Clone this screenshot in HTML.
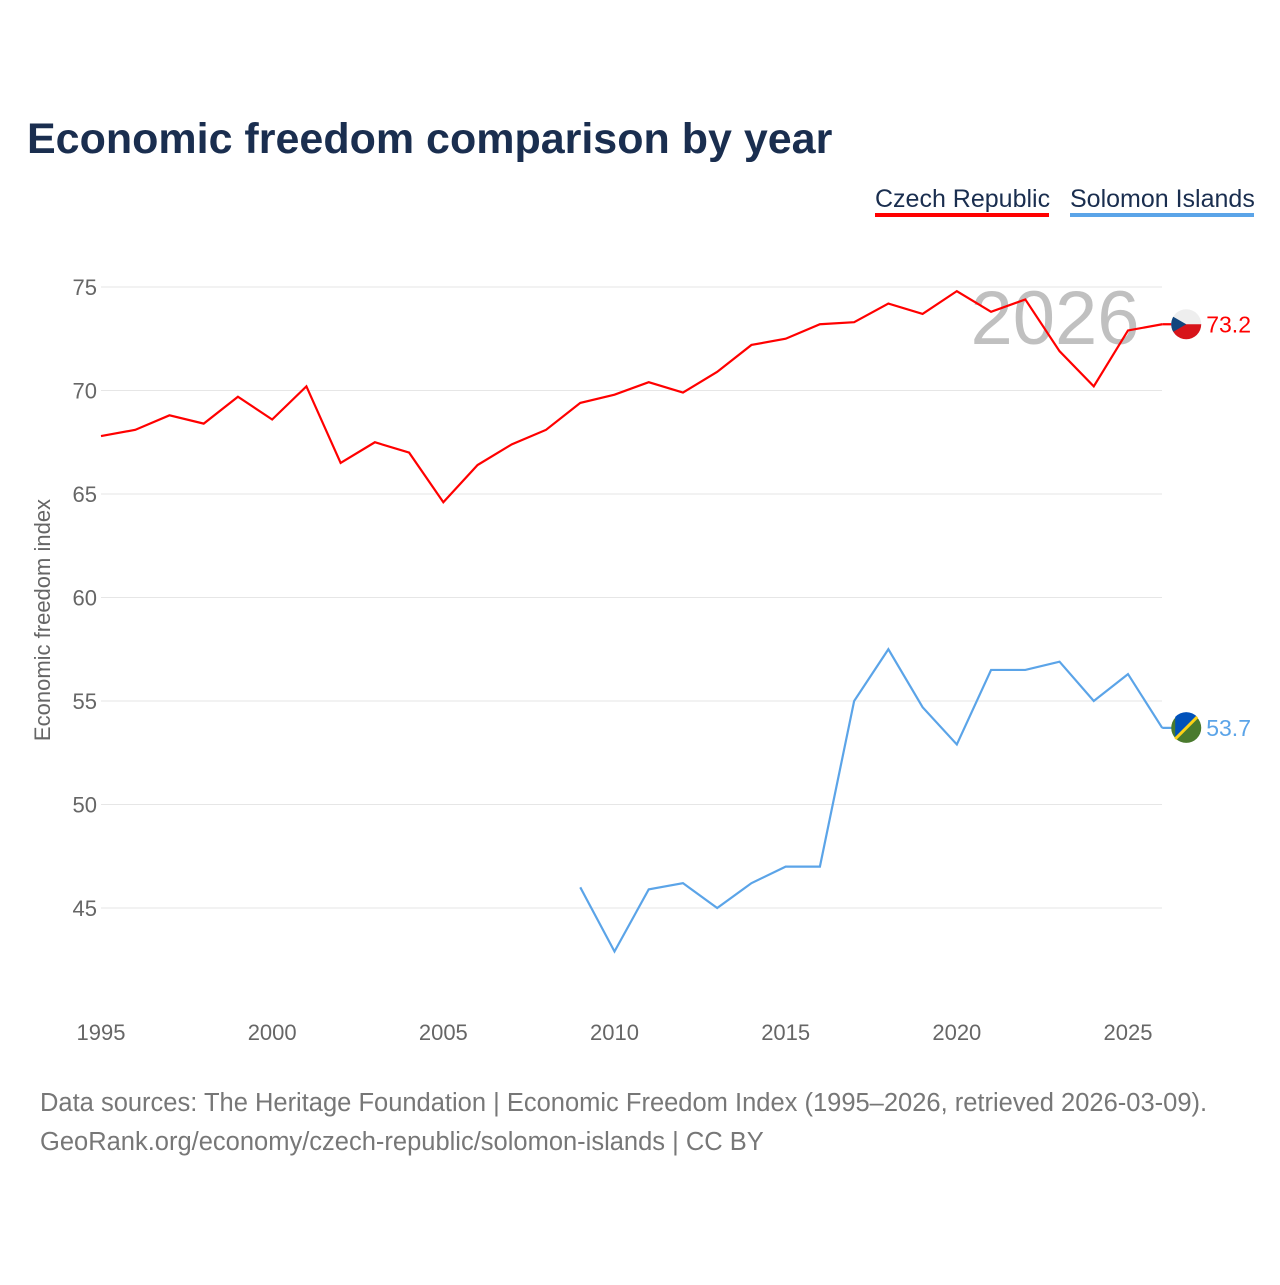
<!DOCTYPE html>
<html><head><meta charset="utf-8"><style>
body{margin:0;background:#fff;font-family:"Liberation Sans",sans-serif}
</style></head><body>
<svg width="1280" height="1280" xmlns="http://www.w3.org/2000/svg">
<text x="27" y="153" font-size="43" font-weight="bold" fill="#1a2e4f">Economic freedom comparison by year</text>
<g>
<text x="875" y="207" font-size="25" fill="#1a2e4f">Czech Republic</text>
<rect x="875" y="213" width="174" height="4" fill="#ff0000"/>
<text x="1070" y="207" font-size="25" fill="#1a2e4f">Solomon Islands</text>
<rect x="1070" y="213" width="184" height="4" fill="#5ba4e8"/>
</g>
<text x="1055" y="344" font-size="76" fill="#c0c0c0" text-anchor="middle">2026</text>
<g id="grid"></g><g id="lines"></g>
<text transform="translate(50,620) rotate(-90)" font-size="22" fill="#666" text-anchor="middle">Economic freedom index</text>
<text x="40" y="1111" font-size="25.5" fill="#777">Data sources: The Heritage Foundation | Economic Freedom Index (1995–2026, retrieved 2026-03-09).</text>
<text x="40" y="1150" font-size="25.5" fill="#777">GeoRank.org/economy/czech-republic/solomon-islands | CC BY</text>
</svg>
<script>
const czYears=[1995,1996,1997,1998,1999,2000,2001,2002,2003,2004,2005,2006,2007,2008,2009,2010,2011,2012,2013,2014,2015,2016,2017,2018,2019,2020,2021,2022,2023,2024,2025,2026];
const czValues=[67.8,68.1,68.8,68.4,69.7,68.6,70.2,66.5,67.5,67.0,64.6,66.4,67.4,68.1,69.4,69.8,70.4,69.9,70.9,72.2,72.5,73.2,73.3,74.2,73.7,74.8,73.8,74.4,71.9,70.2,72.9,73.2];
const sbYears=[2009,2010,2011,2012,2013,2014,2015,2016,2017,2018,2019,2020,2021,2022,2023,2024,2025,2026];
const sbValues=[46.0,42.9,45.9,46.2,45.0,46.2,47.0,47.0,55.0,57.5,54.7,52.9,56.5,56.5,56.9,55.0,56.3,53.7];
const yTicks=[45,50,55,60,65,70,75];
const xTicks=[1995,2000,2005,2010,2015,2020,2025];
const NS="http://www.w3.org/2000/svg";
const X=y=>101+(y-1995)*1027/30;
const Y=v=>287+(75-v)*621/30;
const g=document.getElementById('grid'),L=document.getElementById('lines');
function el(t,a,p){const e=document.createElementNS(NS,t);for(const k in a)e.setAttribute(k,a[k]);p.appendChild(e);return e;}
yTicks.forEach(v=>{
 const l=el('line',{x1:101,x2:1162,y1:Y(v),y2:Y(v),stroke:'#e6e6e6','stroke-width':1},g);
 
 
 const t=el('text',{x:97,y:Y(v)+8,'font-size':22,fill:'#666','text-anchor':'end'},g);t.textContent=v;
 
 
});
xTicks.forEach(v=>{
 const t=el('text',{x:X(v),y:1040,'font-size':22,fill:'#666','text-anchor':'middle'},g);t.textContent=v;
 
 
});
function line(xs,vs,c,name){
 const p=el('polyline',{points:xs.map((x,i)=>X(x)+','+Y(vs[i])).join(' '),fill:'none',stroke:c,'stroke-width':2.2},L);
 
 
 const lx=X(xs[xs.length-1]),ly=Y(vs[vs.length-1]);
 el('line',{x1:lx,x2:lx+24,y1:ly,y2:ly,stroke:c,'stroke-width':2.2},L);
 return [lx+24,ly];
}
let [ax,ay]=line(czYears,czValues,'#ff0000','czech');
let f=el('g',{},L);
el('circle',{cx:ax,cy:ay,r:15,fill:'#eee'},f);
el('path',{d:`M${ax-15},${ay} A15,15 0 0 0 ${ax+15},${ay} Z`,fill:'#d7141a'},f);
el('path',{d:`M${ax-13},${ay-7.5} L${ax},${ay} L${ax-13},${ay+7.5} A15,15 0 0 1 ${ax-13},${ay-7.5}Z`,fill:'#11457e'},f);
let t=el('text',{x:ax+20,y:ay+8,'font-size':23,fill:'#ff0000'},L);t.textContent=czValues[czValues.length-1].toFixed(1);


[ax,ay]=line(sbYears,sbValues,'#5ba4e8','solomon');
f=el('g',{},L);
el('circle',{cx:ax,cy:ay,r:15,fill:'#4a7a2e'},f);
el('path',{d:`M${ax-11},${ay+11} L${ax-11},${ay-11} A15,15 0 0 1 ${ax+11},${ay-11} Z`,fill:'#0051ba'},f);
el('line',{x1:ax-11,y1:ay+11,x2:ax+11,y2:ay-11,stroke:'#fcd116','stroke-width':3},f);
t=el('text',{x:ax+20,y:ay+8,'font-size':23,fill:'#5ba4e8'},L);t.textContent=sbValues[sbValues.length-1].toFixed(1);


</script>
</body></html>
